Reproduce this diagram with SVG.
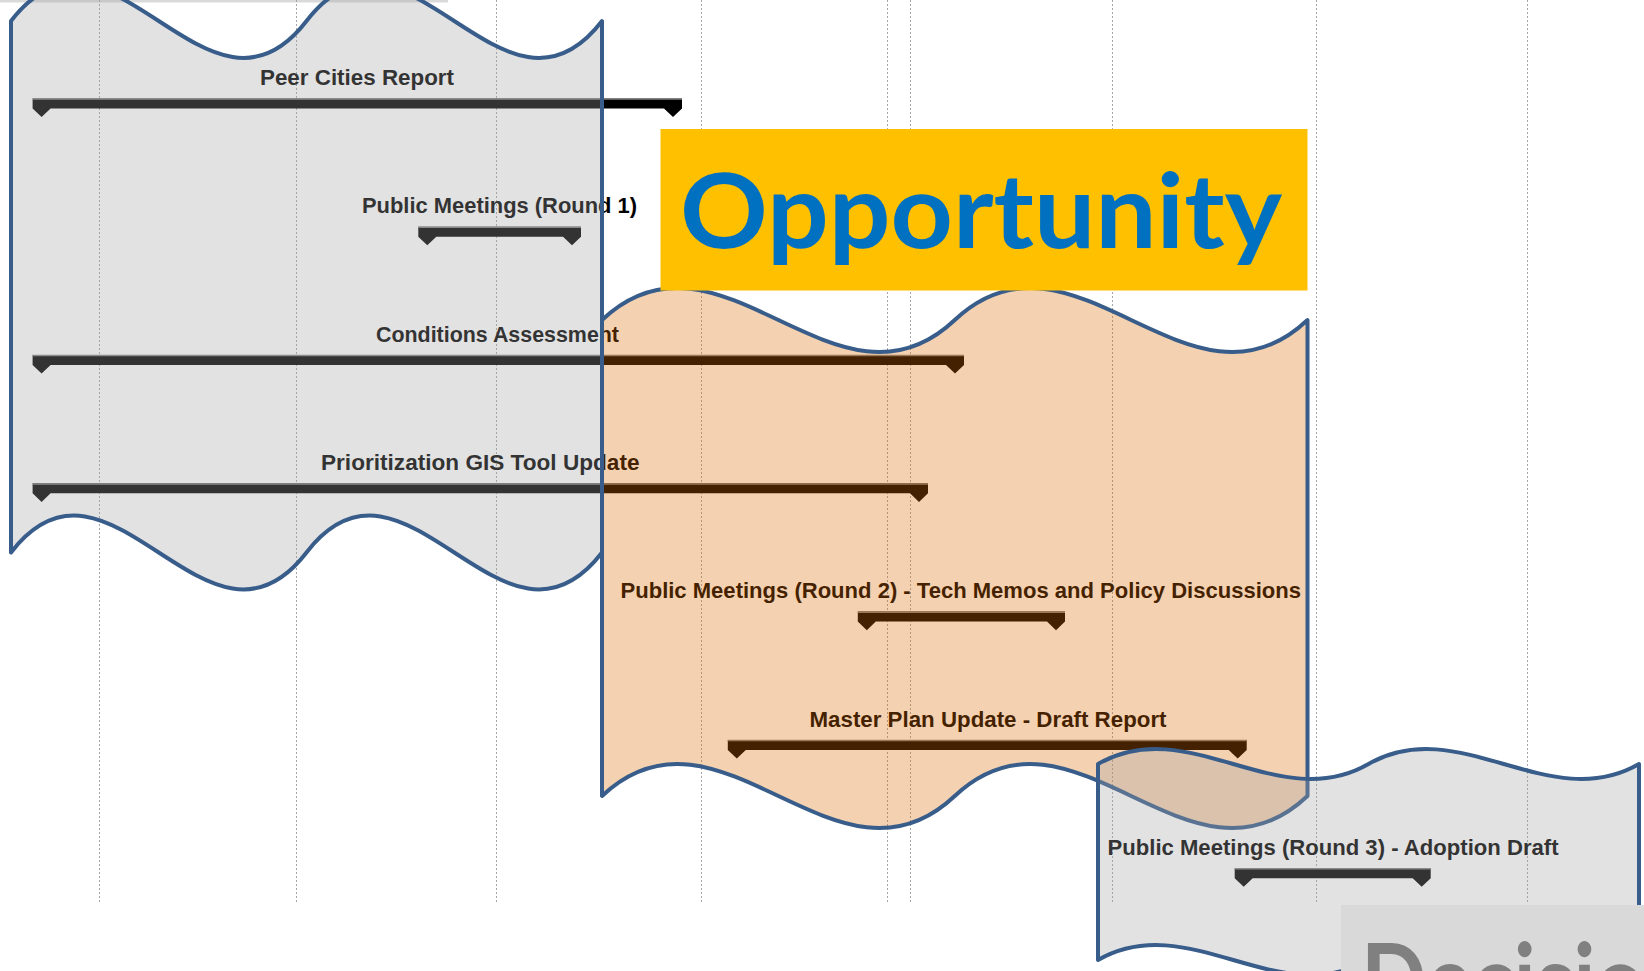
<svg xmlns="http://www.w3.org/2000/svg" width="1644" height="971" viewBox="0 0 1644 971">
<style>
.grid{stroke:#a6a6a6;stroke-width:1;stroke-dasharray:2 2;fill:none}
.lbl{font-family:"Liberation Sans",Arial,sans-serif;font-weight:bold;font-size:22px;fill:#000}
.bar{fill:#000}
.barTop{stroke:#808080;stroke-width:1.5}
.wave{stroke:#385d8a;stroke-width:4;stroke-linejoin:round}
.gray{fill:rgb(163,163,163);fill-opacity:0.314}
.orange{fill:rgb(219,105,0);fill-opacity:0.31}
.big{font-family:Lato,"Open Sans","Noto Sans",sans-serif;font-weight:bold;font-size:104px}
</style>
<rect x="0" y="0" width="1644" height="971" fill="#fff"/>
<rect x="0" y="0" width="448" height="2.5" fill="#d9d9d9"/>
<g id="grid">
<line class="grid" x1="99.5" y1="0" x2="99.5" y2="904"/>
<line class="grid" x1="296.5" y1="0" x2="296.5" y2="904"/>
<line class="grid" x1="496.5" y1="0" x2="496.5" y2="904"/>
<line class="grid" x1="701.5" y1="0" x2="701.5" y2="904"/>
<line class="grid" x1="887.5" y1="0" x2="887.5" y2="904"/>
<line class="grid" x1="910.5" y1="0" x2="910.5" y2="904"/>
<line class="grid" x1="1112.5" y1="0" x2="1112.5" y2="904"/>
<line class="grid" x1="1316.5" y1="0" x2="1316.5" y2="904"/>
<line class="grid" x1="1527.5" y1="0" x2="1527.5" y2="904"/>
</g>
<g id="task-peer-cities">
<text class="lbl" x="260" y="85" textLength="194" lengthAdjust="spacingAndGlyphs">Peer Cities Report</text>
<path class="bar" d="M32.6,98.4 H682 V108.4 L673,117 L664,108.4 H50.6 L41.6,117 L32.6,108.4 Z"/>
<line class="barTop" x1="32.6" y1="99" x2="682" y2="99"/>
</g>
<g id="task-public-meetings-1">
<text class="lbl" x="362" y="213.3" textLength="275" lengthAdjust="spacingAndGlyphs">Public Meetings (Round 1)</text>
<path class="bar" d="M418.3,226.7 H581 V236.7 L572,245.3 L563,236.7 H436.3 L427.3,245.3 L418.3,236.7 Z"/>
<line class="barTop" x1="418.3" y1="227.3" x2="581" y2="227.3"/>
</g>
<g id="task-conditions">
<text class="lbl" x="376" y="341.6" textLength="243" lengthAdjust="spacingAndGlyphs">Conditions Assessment</text>
<path class="bar" d="M32.6,355 H964 V365 L955,373.6 L946,365 H50.6 L41.6,373.6 L32.6,365 Z"/>
<line class="barTop" x1="32.6" y1="355.6" x2="964" y2="355.6"/>
</g>
<g id="task-gis-tool">
<text class="lbl" x="321" y="469.9" textLength="318.5" lengthAdjust="spacingAndGlyphs">Prioritization GIS Tool Update</text>
<path class="bar" d="M32.6,483.3 H928 V493.3 L919,501.9 L910,493.3 H50.6 L41.6,501.9 L32.6,493.3 Z"/>
<line class="barTop" x1="32.6" y1="483.9" x2="928" y2="483.9"/>
</g>
<g id="task-public-meetings-2">
<text class="lbl" x="620.5" y="598.2" textLength="680.5" lengthAdjust="spacingAndGlyphs">Public Meetings (Round 2) - Tech Memos and Policy Discussions</text>
<path class="bar" d="M857.8,611.6 H1065 V621.6 L1056,630.2 L1047,621.6 H875.8 L866.8,630.2 L857.8,621.6 Z"/>
<line class="barTop" x1="857.8" y1="612.2" x2="1065" y2="612.2"/>
</g>
<g id="task-master-plan">
<text class="lbl" x="809.5" y="726.5" textLength="357" lengthAdjust="spacingAndGlyphs">Master Plan Update - Draft Report</text>
<path class="bar" d="M727.8,740 H1246.7 V750 L1237.7,758.6 L1228.7,750 H745.8 L736.8,758.6 L727.8,750 Z"/>
<line class="barTop" x1="727.8" y1="740.6" x2="1246.7" y2="740.6"/>
</g>
<g id="task-public-meetings-3">
<text class="lbl" x="1107.5" y="854.8" textLength="451" lengthAdjust="spacingAndGlyphs">Public Meetings (Round 3) - Adoption Draft</text>
<path class="bar" d="M1234.7,868.2 H1430.7 V878.2 L1421.7,886.8 L1412.7,878.2 H1252.7 L1243.7,886.8 L1234.7,878.2 Z"/>
<line class="barTop" x1="1234.7" y1="868.8" x2="1430.7" y2="868.8"/>
</g>
<g id="phase-1-wave">
<path class="wave gray" d="M11,21 C109.5,-107 208,149 306.5,21 C405,-107 503.5,149 602,21 L602,552.5 C503.5,680.5 405,424.5 306.5,552.5 C208,680.5 109.5,424.5 11,552.5 Z"/>
</g>
<g id="phase-2-wave">
<path class="wave orange" d="M602,320 C719.6,209 837.2,431 954.75,320 C1072.3,209 1189.9,431 1307.5,320 L1307.5,796 C1189.9,907 1072.3,685 954.75,796 C837.2,907 719.6,685 602,796 Z"/>
</g>
<g id="phase-3-wave">
<path class="wave gray" d="M1098,764 C1188.2,712 1278.3,816 1368.5,764 C1458.7,712 1548.8,816 1639,764 L1639,960 C1548.8,1012 1458.7,908 1368.5,960 C1278.3,1012 1188.2,908 1098,960 Z"/>
</g>
<g id="connectors"></g>
<g id="opportunity">
<rect x="660.5" y="129" width="647" height="161.5" fill="#ffc000"/>
<text class="big" x="680" y="248" fill="#0070c0" textLength="602" lengthAdjust="spacingAndGlyphs">Opportunity</text>
</g>
<g id="decision">
<rect x="1341" y="905" width="303" height="66" fill="#d9d9d9"/>
<text class="big" transform="translate(1361,1018) scale(0.83,1)" x="0" y="0" fill="#808080">Decision</text>
</g>
</svg>
